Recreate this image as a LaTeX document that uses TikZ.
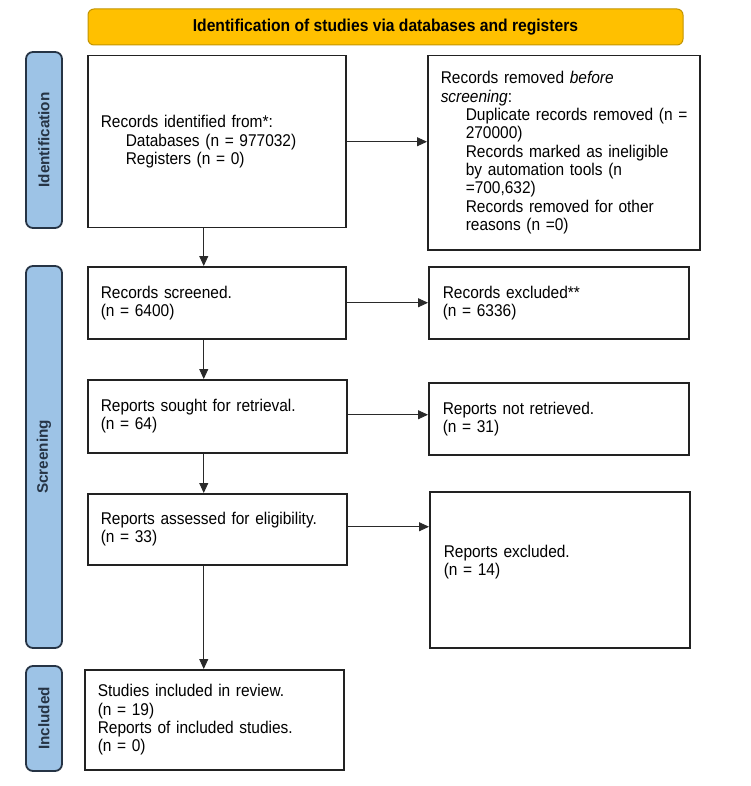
\documentclass[tikz,border=0pt]{standalone}
\usepackage{fontspec}
\setmainfont{Liberation Sans}
\newfontfamily\condfont{Liberation Sans}[FakeStretch=0.91]
\usetikzlibrary{arrows.meta}
\definecolor{hdrfill}{HTML}{FFC000}
\definecolor{hdrline}{HTML}{C39400}
\definecolor{barfill}{HTML}{9DC3E6}
\definecolor{barline}{HTML}{263445}
\definecolor{boxline}{HTML}{222222}
\definecolor{arrline}{HTML}{2A2A2A}
\begin{document}
\begin{tikzpicture}[x=1pt,y=-1pt,
  box/.style={draw=boxline, line width=1.5pt, anchor=north west, align=left,
    inner xsep=13pt, inner ysep=0pt, font=\condfont\fontsize{17}{18.3}\selectfont},
  sidebar/.style={draw=barline, fill=barfill, line width=1.8pt, rounded corners=7pt,
    rotate=90, minimum height=36pt, inner sep=0pt,
    font=\fontsize{15.3}{17}\selectfont\bfseries, text=barline},
  hdr/.style={draw=hdrline, fill=hdrfill, line width=1pt, rounded corners=6pt,
    minimum width=595pt, minimum height=36pt, inner sep=0pt,
    font=\condfont\fontsize{17.2}{19}\selectfont\bfseries},
  arr/.style={draw=arrline, line width=0.8pt, -{Triangle[length=10pt,width=9pt]}}
]
\useasboundingbox (0,0) rectangle (750,786);

% header
\node[hdr] (hdr) at (385.5,27) {Identification of studies via databases and registers};

% side bars
\node[sidebar, minimum width=176pt] (s1) at (44,140) {Identification};
\node[sidebar, minimum width=382pt] (s2) at (44,457) {Screening};
\node[sidebar, minimum width=105pt] (s3) at (44,718.5) {Included};

% left column
\node[box, text width=232pt, minimum height=172pt] (b1) at (87,55)
  {Records identified from*:\\
   \hspace*{25pt}Databases (n = 977032)\\
   \hspace*{25pt}Registers (n = 0)};
\node[box, text width=232pt, minimum height=72pt] (b2) at (87,266)
  {Records screened.\\(n = 6400)};
\node[box, text width=233pt, minimum height=73pt] (b3) at (87,379)
  {Reports sought for retrieval.\\(n = 64)};
\node[box, text width=233pt, minimum height=71pt] (b4) at (87,493)
  {Reports assessed for eligibility.\\(n = 33)};
\node[box, text width=233pt, minimum height=100pt] (b5) at (84,669)
  {Studies included in review.\\(n = 19)\\Reports of included studies.\\(n = 0)};

% right column
\node[box, text width=246pt, minimum height=194pt] (r1) at (427,55)
  {Records removed \textit{before}\\
   \textit{screening}:\\
   \hspace*{25pt}\mbox{Duplicate records removed (n =}\\
   \hspace*{25pt}270000)\\
   \hspace*{25pt}Records marked as ineligible\\
   \hspace*{25pt}by automation tools (n\\
   \hspace*{25pt}=700,632)\\
   \hspace*{25pt}Records removed for other\\
   \hspace*{25pt}reasons (n =0)};
\node[box, inner xsep=14pt, text width=232pt, minimum height=72pt] (r2) at (428,266)
  {Records excluded**\\(n = 6336)};
\node[box, inner xsep=14pt, text width=232pt, minimum height=72pt] (r3) at (428,382)
  {Reports not retrieved.\\(n = 31)};
\node[box, inner xsep=14pt, text width=232pt, minimum height=156pt] (r4) at (429,491)
  {Reports excluded.\\(n = 14)\\\mbox{}};

% vertical arrows
\draw[arr] ([xshift=-13pt]b1.south) -- ([xshift=-13pt]b1.south |- b2.north);
\draw[arr] ([xshift=-13pt]b2.south) -- ([xshift=-13pt]b2.south |- b3.north);
\draw[arr] ([xshift=-13.5pt]b3.south) -- ([xshift=-13.5pt]b3.south |- b4.north);
\draw[arr] ([xshift=-13.5pt]b4.south) -- ([xshift=-13.5pt]b4.south |- b5.north);

% horizontal arrows
\draw[arr] (b1.east) -- (b1.east -| r1.west);
\draw[arr] (b2.east) -- (b2.east -| r2.west);
\draw[arr] ([yshift=1.5pt]b3.east) -- ([yshift=1.5pt]b3.east -| r3.west);
\draw[arr] ([yshift=2.5pt]b4.east) -- ([yshift=2.5pt]b4.east -| r4.west);
\end{tikzpicture}
\end{document}
